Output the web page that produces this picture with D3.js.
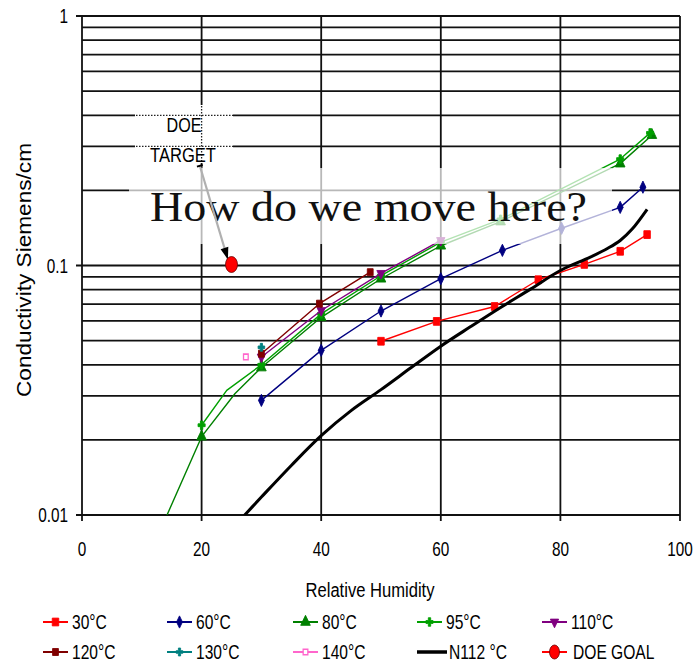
<!DOCTYPE html>
<html><head><meta charset="utf-8">
<script src="https://cdn.jsdelivr.net/npm/d3@7"></script>
<style>body{margin:0;background:#fff;} svg{display:block;}</style>
</head><body><svg id="c" width="694" height="666"></svg>
<script>
// ---- data ----
const xTicks = [0, 20, 40, 60, 80, 100];
const yTicks = [0.01, 0.1, 1];
const yTickLabels = ["0.01", "0.1", "1"];

const rh30 = [50, 59.3, 69, 76.3, 84, 90, 94.5];
const cond30 = [0.0497, 0.0597, 0.0685, 0.0877, 0.101, 0.114, 0.133];

const rh60 = [30, 40, 50, 60, 70.3, 80.2, 90, 93.8];
const cond60 = [0.0288, 0.0457, 0.0657, 0.0885, 0.115, 0.141, 0.171, 0.206];

const rh80 = [10, 20, 25.6, 30, 40, 50, 60, 70, 90, 95.3];
const cond80 = [0.0059, 0.0206, 0.0307, 0.039, 0.062, 0.0885, 0.12, 0.15, 0.256, 0.333];
const mark80 = [0, 1, 0, 1, 1, 1, 1, 1, 1, 1];

const rh95 = [20, 24.2, 30, 40, 50, 60, 70, 90, 95];
const cond95 = [0.0229, 0.0316, 0.040, 0.064, 0.091, 0.124, 0.153, 0.267, 0.34];
const mark95 = [1, 0, 1, 1, 1, 1, 1, 1, 1];

const rh110 = [30, 40, 50, 60];
const cond110 = [0.043, 0.066, 0.093, 0.126];

const rh120 = [30, 39.7, 48.2];
const cond120 = [0.0443, 0.0703, 0.094];

const rh130 = [30];
const cond130 = [0.047];

const rh140 = [27.4];
const cond140 = [0.043];

const rhN112 = [26, 30, 35, 40, 45, 50, 55, 60, 65, 70, 75, 80, 85, 88, 90, 92, 94.5];
const condN112 = [0.0093, 0.0118, 0.0158, 0.0208, 0.0262, 0.0318, 0.0389, 0.0475, 0.0569, 0.0679, 0.0804, 0.0955, 0.108, 0.1175, 0.126, 0.14, 0.168];

const rhGoal = [25];
const condGoal = [0.1];

const targetFrom = [19.7, 0.251];
const targetTo = [24.4, 0.1057];

const legendNames = ["30°C", "60°C", "80°C", "95°C", "110°C", "120°C", "130°C", "140°C", "N112 °C", "DOE GOAL"];

// ---- setup ----
const svg = d3.select("#c");
const W = 694, H = 666;
const x = d3.scaleLinear().domain([0, 100]).range([82, 680]);
const y = d3.scaleLog().domain([0.01, 1]).range([515, 16]);
const FONT = "'Liberation Sans',Arial,sans-serif";

svg.append("rect").attr("width", W).attr("height", H).attr("fill", "#fff");

// narrow text helper (horizontal compression of a normal sans font)
function ntext(parent, tx, ty, str, size, anchor, sx) {
  return parent.append("g").attr("transform", `translate(${tx},${ty}) scale(${sx},1)`)
    .append("text").attr("x", 0).attr("y", 0).attr("text-anchor", anchor)
    .attr("font-family", FONT).attr("font-size", size).attr("fill", "#000").text(str);
}

const defs = svg.append("defs");
defs.append("clipPath").attr("id", "plot").append("rect")
  .attr("x", x(0)).attr("y", y(1)).attr("width", x(100) - x(0)).attr("height", y(0.01) - y(1));

// grid values
const minor = [];
[0.01, 0.1].forEach(d => { for (let k = 1; k <= 9; k++) minor.push(+(k * d).toFixed(3)); });
minor.push(1);

function drawGrid(g, opts) {
  g.selectAll("line.h").data(minor).join("line").attr("class", "h")
    .attr("x1", d => (opts.ticks && yTicks.includes(d)) ? x(0) - 6 : x(0)).attr("x2", x(100))
    .attr("y1", d => y(d)).attr("y2", d => y(d))
    .attr("stroke", opts.color).attr("stroke-width", opts.w)
    .attr("stroke-dasharray", opts.dash || null);
  g.selectAll("line.v").data(xTicks).join("line").attr("class", "v")
    .attr("x1", d => x(d)).attr("x2", d => x(d))
    .attr("y1", y(1)).attr("y2", opts.ticks ? y(0.01) + 6 : y(0.01))
    .attr("stroke", opts.color).attr("stroke-width", opts.w)
    .attr("stroke-dasharray", opts.dash || null);
}
drawGrid(svg.append("g"), { color: "#111", w: 1.8, ticks: true });

// axis labels
const axG = svg.append("g");
yTicks.forEach((d, i) => ntext(axG, 68, y(d) + 7, yTickLabels[i], 21, "end", 0.73));
xTicks.forEach(d => ntext(axG, x(d), 556, String(d), 21, "middle", 0.73));

svg.append("text").attr("x", 370).attr("y", 597).attr("text-anchor", "middle")
  .attr("font-family", FONT).attr("font-size", 20)
  .attr("textLength", 129).attr("lengthAdjust", "spacingAndGlyphs")
  .text("Relative Humidity");
svg.append("text").attr("transform", "translate(31,270) rotate(-90)").attr("text-anchor", "middle")
  .attr("font-family", FONT).attr("font-size", 20)
  .attr("textLength", 254).attr("lengthAdjust", "spacingAndGlyphs")
  .text("Conductivity Siemens/cm");

// ---- series ----
const sym = (type, size) => d3.symbol().type(type).size(size)();
const series = [
  { name: legendNames[0], rh: rh30, c: cond30, color: "#ff0000", w: 1.4, m: sym(d3.symbolSquare, 42), fill: "#ff0000" },
  { name: legendNames[1], rh: rh60, c: cond60, color: "#000080", w: 1.4, m: sym(d3.symbolDiamond, 30), fill: "#000080" },
  { name: legendNames[2], rh: rh80, c: cond80, color: "#008000", w: 1.4, m: sym(d3.symbolTriangle, 40), fill: "#008000", mk: mark80 },
  { name: legendNames[3], rh: rh95, c: cond95, color: "#00a000", w: 1.4, m: sym(d3.symbolCross, 28), fill: "#00a000", mk: mark95 },
  { name: legendNames[4], rh: rh110, c: cond110, color: "#800080", w: 1.4, m: sym(d3.symbolTriangle, 30), fill: "#800080", rot: 180 },
  { name: legendNames[5], rh: rh120, c: cond120, color: "#800000", w: 1.4, m: sym(d3.symbolSquare, 34), fill: "#800000" },
  { name: legendNames[6], rh: rh130, c: cond130, color: "#008080", w: 1.4, m: sym(d3.symbolCross, 24), fill: "#008080" },
  { name: legendNames[7], rh: rh140, c: cond140, color: "#ff66cc", w: 1.4, m: sym(d3.symbolSquare, 22), fill: "#fff", hollow: true },
  { name: legendNames[8], rh: rhN112, c: condN112, color: "#000", w: 3, m: null, smooth: true },
  { name: legendNames[9], rh: rhGoal, c: condGoal, color: "#ff0000", w: 1.5, goal: true }
];

const lineLin = d3.line().x(d => x(d[0])).y(d => y(d[1]));
const lineSmooth = d3.line().x(d => x(d[0])).y(d => y(d[1])).curve(d3.curveCatmullRom.alpha(0.5));
const data = svg.append("g").attr("clip-path", "url(#plot)");

series.forEach(s => {
  const pts = s.rh.map((r, i) => [r, s.c[i], s.mk ? s.mk[i] : 1]);
  if (pts.length > 1) {
    data.append("path").attr("d", (s.smooth ? lineSmooth : lineLin)(pts)).attr("fill", "none")
      .attr("stroke", s.color).attr("stroke-width", s.w).attr("stroke-linejoin", "round");
  }
  if (s.m) {
    data.append("g").selectAll("path").data(pts.filter(p => p[2])).join("path")
      .attr("d", s.m)
      .attr("transform", p => `translate(${x(p[0])},${y(p[1])})` + (s.rot ? ` rotate(${s.rot})` : "") + " scale(1,1.2)")
      .attr("fill", s.fill).attr("stroke", s.color).attr("stroke-width", s.hollow ? 1.3 : 0.8);
  }
});

// ---- "How do we move here?" box ----
svg.append("rect").attr("x", 129).attr("y", 168).attr("width", 612 - 129).attr("height", 244 - 168)
  .attr("fill", "#fff").attr("fill-opacity", 0.7);
svg.append("text").attr("x", 150).attr("y", 221)
  .attr("font-family", "'Liberation Serif','DejaVu Serif',serif").attr("font-size", 42)
  .attr("textLength", 437).attr("lengthAdjust", "spacingAndGlyphs")
  .attr("fill", "#111")
  .text("How do we move here?");

// ---- DOE TARGET box ----
defs.append("clipPath").attr("id", "tbox").append("rect")
  .attr("x", 135).attr("y", 105).attr("width", 98).attr("height", 58);
svg.append("rect").attr("x", 135).attr("y", 105).attr("width", 98).attr("height", 58).attr("fill", "#fff");
drawGrid(svg.append("g").attr("clip-path", "url(#tbox)"), { color: "#222", w: 1.3, dash: "1.5,1.5", ticks: false });
svg.append("text").attr("x", 184).attr("y", 132).attr("text-anchor", "middle")
  .attr("font-family", FONT).attr("font-size", 21)
  .attr("textLength", 35).attr("lengthAdjust", "spacingAndGlyphs").text("DOE");
svg.append("text").attr("x", 183).attr("y", 162).attr("text-anchor", "middle")
  .attr("font-family", FONT).attr("font-size", 21)
  .attr("textLength", 66).attr("lengthAdjust", "spacingAndGlyphs").text("TARGET");

// arrow
const ax1 = x(targetFrom[0]), ay1 = y(targetFrom[1]), ax2 = x(targetTo[0]), ay2 = y(targetTo[1]);
svg.append("line").attr("x1", ax1).attr("y1", ay1).attr("x2", ax2).attr("y2", ay2)
  .attr("stroke", "#b0b0b0").attr("stroke-width", 2.2);
const ang = Math.atan2(ay2 - ay1, ax2 - ax1) * 180 / Math.PI;
svg.append("path").attr("d", "M0,0 L-12,-4 L-12,4 Z")
  .attr("transform", `translate(${ax2},${ay2}) rotate(${ang})`).attr("fill", "#000");
svg.append("path").attr("d", "M0,-3 L0,3").attr("stroke", "#000").attr("stroke-width", 2)
  .attr("transform", `translate(${ax1},${ay1}) rotate(${ang})`);

// goal marker
const goal = series[9];
svg.append("g").selectAll("ellipse").data(goal.rh.map((r, i) => [r, goal.c[i]])).join("ellipse")
  .attr("cx", d => x(d[0])).attr("cy", d => y(d[1]) - 1).attr("rx", 6).attr("ry", 8)
  .attr("fill", "#ff0000").attr("stroke", "#600").attr("stroke-width", 0.8);

// ---- legend ----
const colX = [43, 167, 293, 417, 542];
const rowY = [622, 652];
const leg = svg.append("g");
series.forEach((s, i) => {
  const lx = colX[i % 5], ly = rowY[Math.floor(i / 5)];
  const g = leg.append("g").attr("transform", `translate(${lx},${ly})`);
  g.append("line").attr("x1", 0).attr("x2", i === 8 ? 30 : 25).attr("y1", 0).attr("y2", 0)
    .attr("stroke", s.color).attr("stroke-width", i === 8 ? 3.5 : 2);
  if (s.goal) {
    g.append("ellipse").attr("cx", 12.5).attr("cy", 0).attr("rx", 5).attr("ry", 7)
      .attr("fill", "#ff0000").attr("stroke", "#600").attr("stroke-width", 0.8);
  } else if (s.m) {
    g.append("path").attr("d", s.m)
      .attr("transform", "translate(12.5,0)" + (s.rot ? ` rotate(${s.rot})` : "") + " scale(1,1.2)")
      .attr("fill", s.fill).attr("stroke", s.color).attr("stroke-width", s.hollow ? 1.3 : 0.8);
  }
  ntext(g, i === 8 ? 32 : (s.goal ? 31 : 29), 7, s.name, 20, "start", 0.78);
});
</script>
</body></html>
